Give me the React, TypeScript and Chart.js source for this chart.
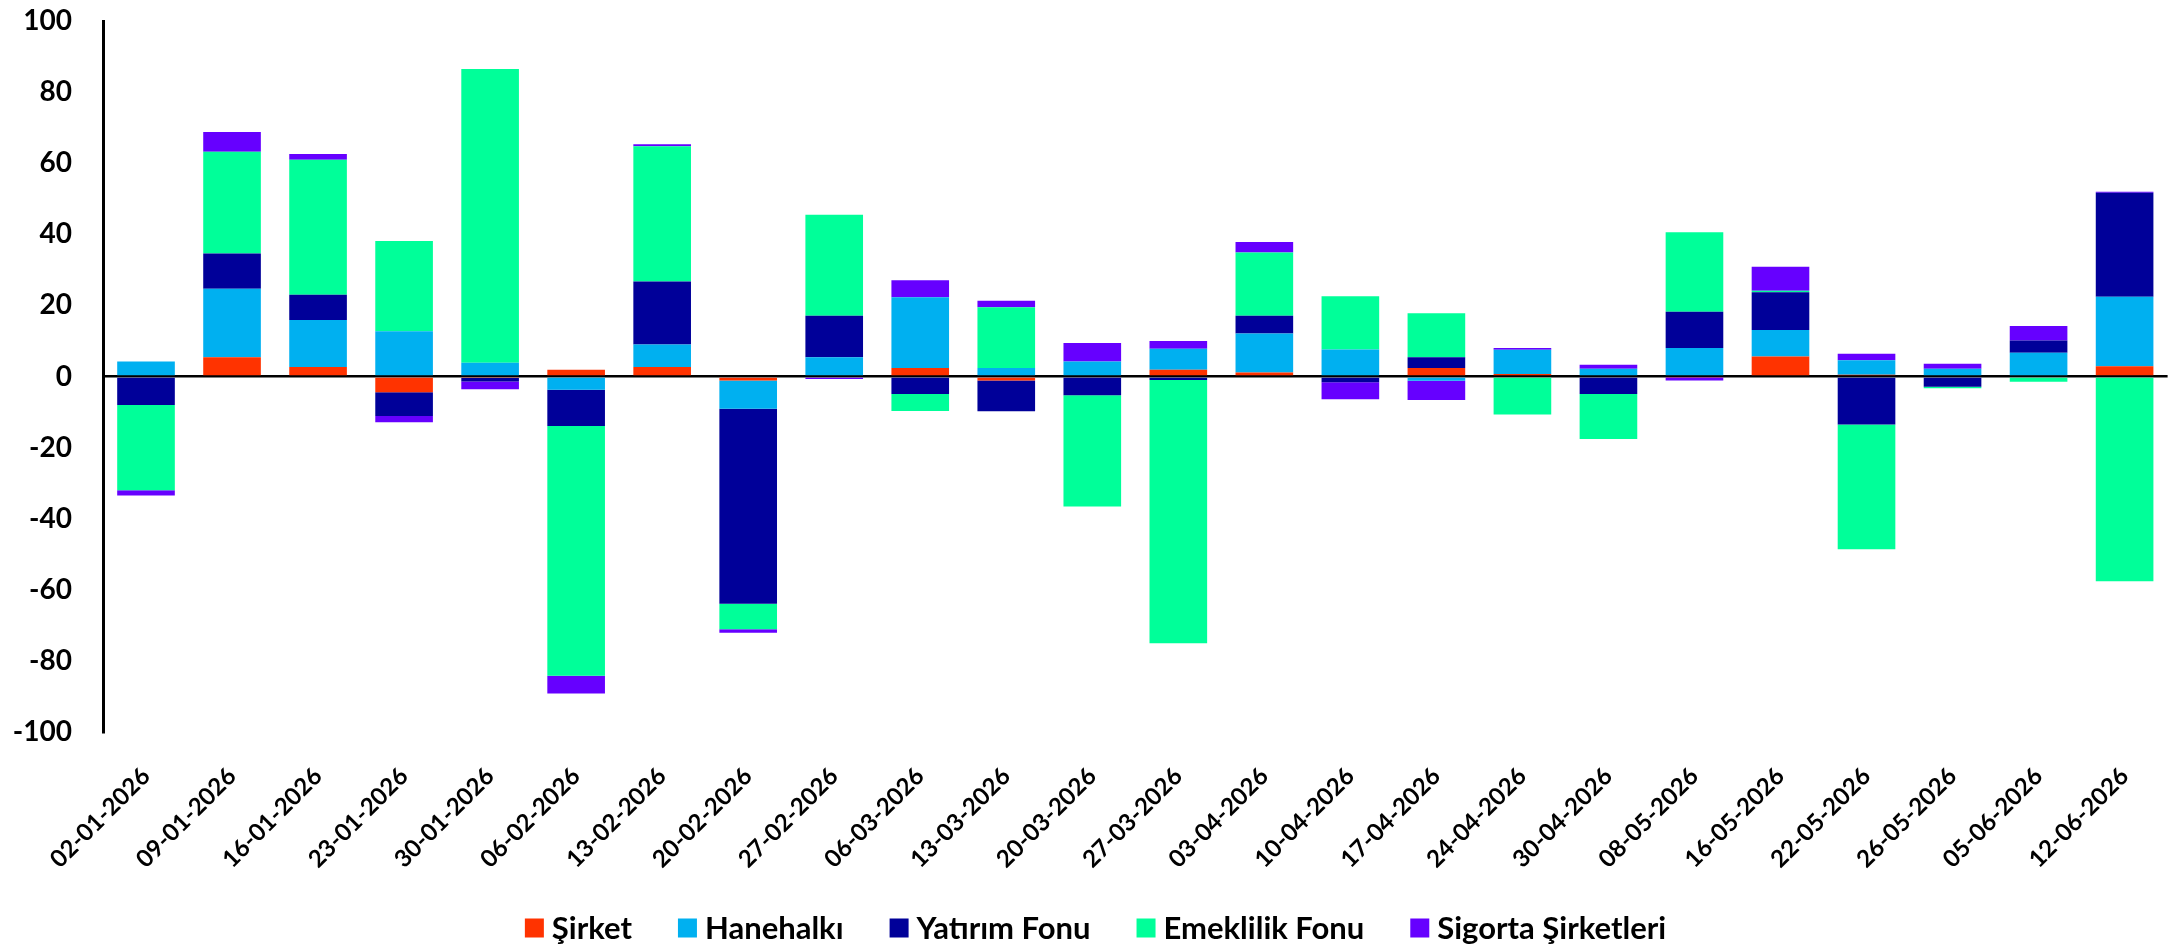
import React, { useEffect, useRef } from "react";
import { Chart, registerables } from "chart.js";

Chart.register(...registerables);

const categories = [
  "02-01-2026", "09-01-2026", "16-01-2026", "23-01-2026", "30-01-2026", "06-02-2026",
  "13-02-2026", "20-02-2026", "27-02-2026", "06-03-2026", "13-03-2026", "20-03-2026",
  "27-03-2026", "03-04-2026", "10-04-2026", "17-04-2026", "24-04-2026", "30-04-2026",
  "08-05-2026", "16-05-2026", "22-05-2026", "26-05-2026", "05-06-2026", "12-06-2026",
];

const sirket = [0, 5.4, 2.7, -4.4, -0.4, 1.9, 2.7, -1.1, 0, 2.4, -1.1, 0, 1.9, 1.1, 0, 2.4, 0.7, 0, -0.3, 5.6, 0.5, 0, 0, 2.9];
const hanehalki = [4.2, 19.3, 13.2, 12.7, 3.9, -3.7, 6.3, -8.0, 5.4, 19.9, 2.4, 4.2, 5.9, 11.0, 7.6, -1.2, 6.8, 2.2, 8.0, 7.5, 4.1, 2.2, 6.7, 19.5];
const yatirimFonu = [-8.0, 9.9, 7.1, -6.7, -1.0, -10.2, 17.7, -54.8, 11.7, -4.9, -8.7, -5.3, -1.0, 5.0, -1.6, 3.0, 0, -4.9, 10.2, 10.6, -13.5, -2.9, 3.4, 29.3];
const emeklilikFonu = [-24.0, 28.6, 38.0, 25.4, 82.6, -70.3, 38.1, -7.2, 28.4, -4.8, 17.1, -31.3, -74.0, 17.8, 15.0, 12.4, -10.7, -12.7, 22.4, 0.4, -35.1, -0.4, -1.5, -57.6];
const sigorta = [-1.5, 5.6, 1.6, -1.8, -2.2, -5.0, 0.5, -1.0, -0.7, 4.8, 1.8, 5.2, 2.2, 2.9, -4.8, -5.4, 0.5, 1.1, -0.8, 6.8, 1.8, 1.4, 4.1, 0.3];

const seriesNames = ["Şirket", "Hanehalkı", "Yatırım Fonu", "Emeklilik Fonu", "Sigorta Şirketleri"];
const seriesColors = ["#FF3300", "#00B0F0", "#000099", "#00FF99", "#6600FF"];
const seriesValues = [sirket, hanehalki, yatirimFonu, emeklilikFonu, sigorta];

const FONT = "Lato, 'Open Sans', sans-serif";

const legendPlugin = {
  id: "bottomLegend",
  afterDraw(chart: any) {
    const ctx = chart.ctx;
    const box = 19;
    const gapText = 8;
    const gapItem = 46;
    const cy = 928;
    ctx.save();
    ctx.font = `bold 31px ${FONT}`;
    ctx.textBaseline = "middle";
    ctx.textAlign = "left";
    const items = chart.data.datasets.map((ds: any) => ({
      text: ds.label,
      color: ds.backgroundColor,
      w: ctx.measureText(ds.label).width,
    }));
    const total =
      items.reduce((s: number, it: any) => s + box + gapText + it.w, 0) + gapItem * (items.length - 1);
    let x = chart.width / 2 + 8 - total / 2;
    for (const it of items) {
      ctx.fillStyle = it.color;
      ctx.fillRect(x, cy - box / 2, box, box);
      ctx.fillStyle = "#000";
      ctx.fillText(it.text, x + box + gapText, cy + 1);
      x += box + gapText + it.w + gapItem;
    }
    ctx.restore();
  },
};

export default function App() {
  const ref = useRef<HTMLCanvasElement | null>(null);

  useEffect(() => {
    if (!ref.current) return;
    const chart = new Chart(ref.current, {
      type: "bar",
      data: {
        labels: categories,
        datasets: seriesNames.map((name, i) => ({
          label: name,
          data: seriesValues[i],
          backgroundColor: seriesColors[i],
          borderWidth: 0,
          stack: "s",
          categoryPercentage: 1,
          barPercentage: 0.67,
        })),
      },
      plugins: [legendPlugin],
      options: {
        animation: false,
        responsive: true,
        maintainAspectRatio: false,
        layout: { padding: { top: 0, right: 2, bottom: 0, left: 0 } },
        plugins: {
          tooltip: { enabled: false },
          legend: { display: false },
        },
        scales: {
          x: {
            stacked: true,
            grid: { display: false, drawTicks: false },
            border: { display: false },
            afterFit: (scale: any) => {
              scale.height = 215;
            },
            ticks: {
              autoSkip: false,
              maxRotation: 45,
              minRotation: 45,
              padding: 30,
              color: "#000",
              font: { family: FONT, size: 24, weight: "bold" },
            },
          },
          y: {
            stacked: true,
            min: -100,
            max: 100,
            afterFit: (scale: any) => {
              scale.width = 103;
              scale.paddingTop = 21;
              scale.paddingBottom = 0;
            },
            ticks: {
              stepSize: 20,
              padding: 31,
              color: "#000",
              font: { family: FONT, size: 28, weight: "bold" },
            },
            grid: {
              drawTicks: false,
              color: (ctx: any) => (ctx.tick && ctx.tick.value === 0 ? "#000" : "rgba(0,0,0,0)"),
              lineWidth: 2.5,
            },
            border: { display: true, color: "#000", width: 3 },
          },
        },
      },
    });
    return () => chart.destroy();
  }, []);

  return (
    <div style={{ position: "absolute", left: 0, top: 0, width: 2175, height: 947, background: "#fff" }}>
      <canvas ref={ref} />
    </div>
  );
}
